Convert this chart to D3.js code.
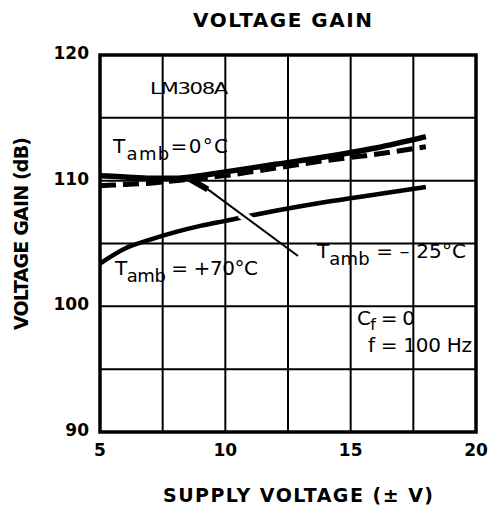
<!DOCTYPE html>
<html>
<head>
<meta charset="utf-8">
<script src="https://cdn.jsdelivr.net/npm/d3@7"></script>
<style>
  body { margin: 0; background: #fff; }
  svg { display: block; font-family: "DejaVu Sans", "Liberation Sans", sans-serif; }
</style>
</head>
<body>
<div id="chart"></div>
<script>
// supply voltage (±V) and gain (dB)
let voltsT0 = [5, 6, 7, 8, 9, 10, 12, 14, 16, 18];
let gainT0 = [110.4, 110.3, 110.2, 110.2, 110.4, 110.7, 111.3, 111.9, 112.6, 113.5];

let voltsTm25 = [5, 6, 7, 8, 9, 10, 12, 14, 16, 18];
let gainTm25 = [109.6, 109.7, 109.8, 110.0, 110.2, 110.4, 111.0, 111.6, 112.1, 112.7];

let voltsT70 = [5, 6, 7, 8, 9, 10, 12, 14, 16, 18];
let gainT70 = [103.4, 104.6, 105.3, 105.9, 106.4, 106.8, 107.6, 108.3, 108.9, 109.5];

let xTicks = [5, 10, 15, 20];
let yTicks = [90, 100, 110, 120];

let width = 489, height = 505;
let margin = {top: 55, right: 13, bottom: 73, left: 100};

let svg = d3.select('#chart').append('svg')
    .attr('width', width)
    .attr('height', height);

let x = d3.scaleLinear().domain([5, 20]).range([margin.left, width - margin.right]);
let y = d3.scaleLinear().domain([90, 120]).range([height - margin.bottom, margin.top]);

// grid every 2.5 V and 5 dB
let gx = d3.range(7.5, 20, 2.5);
let gy = d3.range(95, 120, 5);

svg.append('g').selectAll('line')
    .data(gx).enter().append('line')
    .attr('x1', (d) => x(d)).attr('x2', (d) => x(d))
    .attr('y1', y(90)).attr('y2', y(120))
    .attr('stroke', '#000').attr('stroke-width', 2);

svg.append('g').selectAll('line')
    .data(gy).enter().append('line')
    .attr('x1', x(5)).attr('x2', x(20))
    .attr('y1', (d) => y(d)).attr('y2', (d) => y(d))
    .attr('stroke', '#000').attr('stroke-width', 2);

svg.append('rect')
    .attr('x', x(5)).attr('y', y(120))
    .attr('width', x(20) - x(5)).attr('height', y(90) - y(120))
    .attr('fill', 'none').attr('stroke', '#000').attr('stroke-width', 3.5);

// tick labels
svg.append('g').selectAll('text')
    .data(yTicks).enter().append('text')
    .attr('x', x(5) - 11).attr('y', (d) => y(d) + 4)
    .attr('text-anchor', 'end')
    .attr('font-size', 17).attr('font-weight', 'bold')
    .text((d) => d);

svg.append('g').selectAll('text')
    .data(xTicks).enter().append('text')
    .attr('x', (d) => x(d)).attr('y', y(90) + 24)
    .attr('text-anchor', 'middle')
    .attr('font-size', 17).attr('font-weight', 'bold')
    .text((d) => d);

// titles, stretched to the widths of the original lettering
svg.append('text')
    .attr('x', 193).attr('y', 27)
    .attr('font-size', 20).attr('font-weight', 'bold')
    .attr('textLength', 179).attr('lengthAdjust', 'spacing')
    .text('VOLTAGE GAIN');

svg.append('text')
    .attr('x', 163).attr('y', 502)
    .attr('font-size', 19).attr('font-weight', 'bold')
    .attr('textLength', 270).attr('lengthAdjust', 'spacing')
    .text('SUPPLY VOLTAGE (\u00B1 V)');

svg.append('text')
    .attr('transform', 'translate(28,330) rotate(-90)')
    .attr('font-size', 19).attr('font-weight', 'bold')
    .attr('textLength', 193).attr('lengthAdjust', 'spacing')
    .text('VOLTAGE GAIN (dB)');

let line = d3.line()
    .x((d) => x(d[0]))
    .y((d) => y(d[1]))
    .curve(d3.curveMonotoneX);

let zip = (a, b) => a.map((v, i) => [v, b[i]]);

// +70 C
svg.append('path')
    .datum(zip(voltsT70, gainT70))
    .attr('d', line)
    .attr('fill', 'none').attr('stroke', '#000').attr('stroke-width', 4.5);

// -25 C dashed
svg.append('path')
    .datum(zip(voltsTm25, gainTm25))
    .attr('d', line)
    .attr('fill', 'none').attr('stroke', '#000').attr('stroke-width', 5)
    .attr('stroke-dasharray', '16,7');

// 0 C
svg.append('path')
    .datum(zip(voltsT0, gainT0))
    .attr('d', line)
    .attr('fill', 'none').attr('stroke', '#000').attr('stroke-width', 5.5);

// pointer for the -25 C label, with a white halo where it crosses the +70 curve
let ptr = [[8.9, 109.9], [12.9, 104.0]];
svg.append('line')
    .attr('x1', x(10.6)).attr('y1', y(107.4))
    .attr('x2', x(11.4)).attr('y2', y(106.2))
    .attr('stroke', '#fff').attr('stroke-width', 9);
svg.append('line')
    .attr('x1', x(ptr[0][0])).attr('y1', y(ptr[0][1]))
    .attr('x2', x(ptr[1][0])).attr('y2', y(ptr[1][1]))
    .attr('stroke', '#000').attr('stroke-width', 2);
svg.append('line')
    .attr('x1', x(8.6)).attr('y1', y(110.1))
    .attr('x2', x(9.3)).attr('y2', y(109.3))
    .attr('stroke', '#000').attr('stroke-width', 6);

// annotations
let tamb = (tx, ty, w, rest) => {
    let t = svg.append('text')
        .attr('x', tx).attr('y', ty)
        .attr('font-size', 20)
        .attr('textLength', w).attr('lengthAdjust', 'spacing');
    t.append('tspan').text('T');
    t.append('tspan').attr('dy', 7).attr('font-size', 18).text('amb');
    t.append('tspan').attr('dy', -7).text(rest);
};

svg.append('text')
    .attr('x', 150).attr('y', 94)
    .attr('font-size', 16).attr('letter-spacing', -1)
    .attr('textLength', 77).attr('lengthAdjust', 'spacingAndGlyphs')
    .text('LM308A');

tamb(113, 153, 115, '=0\u00B0C');
tamb(115, 275, 143, ' = +70\u00B0C');
tamb(317, 258, 149, ' = \u2013 25\u00B0C');

let cf = svg.append('text')
    .attr('x', 357).attr('y', 325)
    .attr('font-size', 20)
    .attr('textLength', 58).attr('lengthAdjust', 'spacing');
cf.append('tspan').text('C');
cf.append('tspan').attr('dy', 5).attr('font-size', 16).text('f');
cf.append('tspan').attr('dy', -5).text(' = 0');

svg.append('text')
    .attr('x', 368).attr('y', 352)
    .attr('font-size', 20)
    .attr('textLength', 104).attr('lengthAdjust', 'spacing')
    .text('f = 100 Hz');
</script>
</body>
</html>
